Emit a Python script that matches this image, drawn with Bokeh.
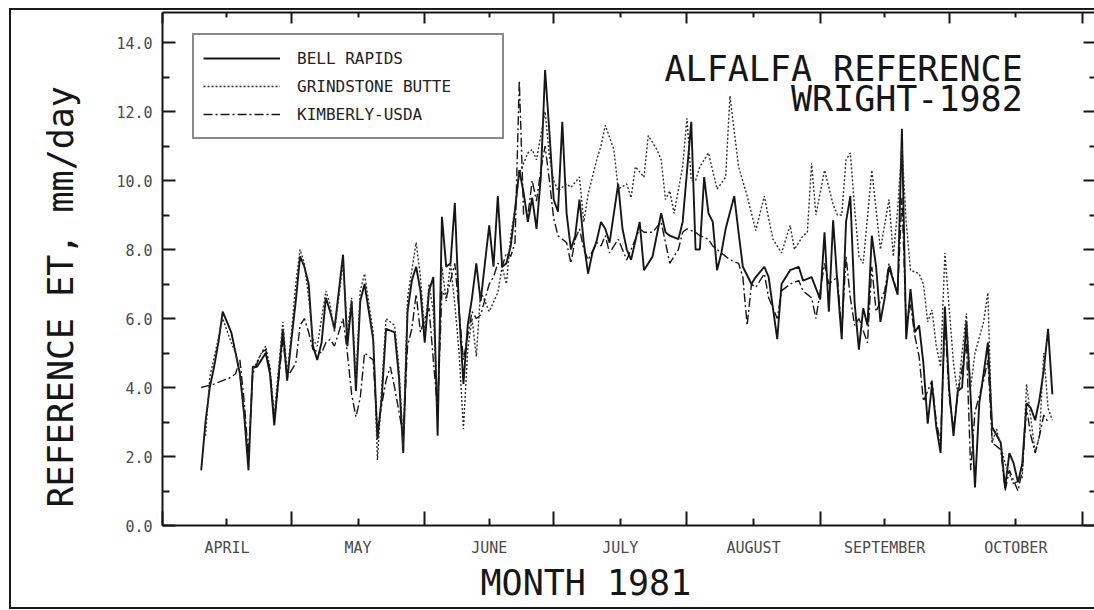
import numpy as np
from bokeh.plotting import figure
from bokeh.models import (Range1d, LinearAxis, FixedTicker, Legend, LegendItem, Label, Title,
                          NumeralTickFormatter, CustomJSTickFormatter)
from bokeh.embed import file_html
from bokeh.resources import INLINE

# ---------------- data (day of year 1981, reference ET mm/day) ----------------
bell_day = [100, 101, 102, 103, 104, 105, 106, 107, 108, 109, 110, 111, 112, 113, 114, 115, 116, 117,
            119, 120, 121, 122, 123, 124, 125, 126, 127, 128, 129, 130, 131, 133, 134, 135, 136, 137,
            138, 140, 141, 142, 143, 145, 146, 147, 148, 149, 150, 151, 152, 153, 154, 155, 156, 157,
            158, 159, 160, 161, 162, 163, 164, 165, 167, 168, 169, 170, 171, 172, 173, 174, 175, 176,
            177, 178, 179, 180, 181, 182, 183, 184, 185, 186, 187, 188, 189, 190, 191, 192, 193, 194,
            195, 197, 198, 199, 200, 202, 203, 205, 207, 208, 209, 211, 212, 214, 215, 216, 217, 218,
            219, 220, 221, 222, 224, 225, 226, 228, 229, 231, 232, 234, 235, 237, 239, 240, 242, 244,
            245, 246, 247, 248, 249, 250, 251, 252, 253, 254, 255, 256, 257, 258, 259, 260, 262, 263,
            264, 265, 266, 267, 268, 269, 270, 271, 272, 273, 274, 275, 276, 277, 278, 279, 280, 281,
            282, 283, 284, 286, 287, 288, 289, 290, 291, 292, 293, 294, 295, 296, 297, 298]
bell_et = [1.6, 3.0, 4.0, 4.6, 5.3, 6.2, 5.9, 5.6, 5.0, 4.4, 3.2, 1.6, 4.6, 4.6, 4.8, 5.0, 4.4, 2.9,
           5.7, 4.2, 5.4, 6.5, 7.8, 7.5, 7.0, 5.2, 4.8, 5.3, 6.6, 6.2, 5.7, 7.85, 5.2, 6.5, 3.9, 6.5,
           7.0, 5.4, 2.5, 3.7, 5.7, 5.6, 4.3, 2.1, 6.2, 7.1, 7.5, 6.8, 5.3, 6.8, 7.2, 2.6, 8.95, 7.5,
           7.6, 9.35, 6.2, 4.1, 5.8, 6.6, 7.6, 6.5, 8.7, 7.5, 9.55, 7.5, 7.6, 8.1, 9.15, 10.3, 9.65, 8.8,
           9.5, 8.6, 10.1, 13.2, 11.4, 9.45, 9.1, 11.7, 9.05, 8.0, 8.4, 9.45, 8.2, 7.3, 7.9, 8.25, 8.8, 8.6,
           8.2, 9.9, 8.6, 8.0, 7.7, 8.8, 7.4, 7.8, 9.05, 8.5, 8.4, 8.3, 8.8, 11.7, 8.0, 8.0, 10.1, 9.05,
           8.8, 7.4, 7.9, 8.6, 9.55, 8.5, 7.5, 7.0, 7.2, 7.5, 7.2, 5.4, 7.0, 7.4, 7.5, 7.1, 7.2, 6.55,
           8.5, 6.2, 8.85, 7.0, 5.4, 8.8, 9.55, 6.45, 5.1, 6.3, 5.8, 8.4, 7.5, 5.9, 6.6, 7.5, 6.7, 11.5,
           5.4, 6.85, 5.6, 5.8, 4.7, 2.95, 4.1, 2.85, 2.1, 6.35, 3.95, 2.6, 3.9, 4.0, 5.9, 3.7, 1.1, 3.55,
           4.4, 5.3, 2.85, 2.4, 1.1, 2.1, 1.8, 1.25, 1.8, 3.55, 3.4, 3.05, 3.65, 4.5, 5.7, 3.8]

grind_day = [101, 102, 105, 107, 108, 109, 110, 111, 112, 114, 115, 116, 117, 119, 120, 121, 122, 123,
             124, 125, 126, 127, 128, 129, 130, 131, 133, 134, 135, 136, 137, 138, 140, 141, 142, 143,
             145, 146, 147, 148, 150, 151, 152, 153, 154, 155, 156, 157, 158, 159, 160, 161, 162, 163,
             164, 165, 166, 167, 169, 170, 171, 172, 173, 174, 176, 177, 178, 180, 181, 182, 183, 185,
             186, 188, 189, 190, 192, 193, 194, 196, 197, 199, 200, 201, 203, 204, 206, 207, 208, 209,
             210, 212, 213, 214, 215, 216, 218, 220, 222, 223, 225, 227, 229, 231, 232, 233, 235, 237,
             238, 240, 241, 242, 243, 245, 247, 248, 249, 250, 251, 252, 253, 254, 256, 258, 260, 261,
             262, 263, 264, 265, 267, 268, 269, 270, 271, 272, 273, 275, 276, 277, 278, 279, 280, 282,
             283, 284, 285, 287, 288, 289, 291, 292, 294, 295, 296, 297, 298]
grind_et = [2.6, 4.3, 6.0, 5.3, 5.0, 4.4, 3.2, 2.0, 4.5, 5.0, 5.2, 4.6, 3.2, 5.9, 4.4, 5.6, 7.0, 8.0,
            7.6, 6.6, 5.4, 5.2, 6.0, 6.8, 6.4, 5.6, 7.6, 5.6, 6.6, 4.2, 6.8, 7.3, 5.6, 1.9, 4.0, 6.0,
            5.8, 4.6, 2.3, 6.6, 8.2, 7.2, 5.6, 7.0, 6.2, 3.5, 7.5, 6.5, 7.6, 6.4, 5.0, 2.8, 5.1, 6.0,
            4.9, 6.8, 6.5, 6.2, 6.75, 7.5, 7.0, 8.4, 9.2, 10.2, 10.8, 10.9, 10.6, 12.0, 10.7, 10.0, 9.7, 9.9,
            9.8, 10.1, 8.8, 9.6, 10.6, 11.0, 11.6, 10.9, 9.75, 9.9, 9.5, 10.4, 10.1, 11.3, 10.9, 10.6, 9.45, 9.7,
            9.05, 10.4, 11.8, 10.0, 10.0, 10.4, 10.8, 9.75, 10.1, 12.45, 10.4, 9.55, 8.55, 9.55, 8.9, 8.3, 7.9, 8.7,
            8.0, 8.4, 8.5, 10.5, 9.0, 10.3, 9.3, 9.0, 9.0, 10.6, 10.8, 9.2, 7.8, 7.6, 10.3, 8.0, 9.45, 7.8,
            9.15, 11.0, 8.8, 7.4, 7.3, 7.0, 5.9, 6.25, 5.2, 4.6, 7.9, 4.7, 3.8, 5.0, 6.15, 4.0, 5.0, 5.9,
            6.75, 2.4, 2.8, 1.8, 1.5, 1.2, 1.4, 4.1, 2.1, 2.6, 5.0, 3.4, 3.05]

kimb_day = [100, 103, 107, 108, 109, 110, 111, 112, 114, 115, 116, 117, 119, 120, 122, 123, 124, 125,
            126, 128, 129, 130, 131, 133, 134, 135, 136, 137, 138, 140, 141, 142, 143, 144, 145, 147,
            148, 149, 150, 151, 152, 153, 155, 156, 157, 159, 160, 161, 162, 163, 164, 165, 167, 168,
            169, 170, 171, 172, 173, 174, 175, 176, 177, 178, 179, 180, 181, 182, 183, 185, 186, 187,
            188, 189, 190, 192, 193, 194, 195, 197, 198, 199, 200, 202, 203, 205, 207, 208, 209, 210,
            211, 212, 213, 215, 216, 218, 219, 221, 222, 223, 225, 226, 227, 228, 229, 231, 232, 234,
            235, 237, 239, 240, 242, 243, 245, 246, 248, 249, 250, 251, 252, 253, 255, 256, 257, 259,
            260, 262, 263, 264, 265, 266, 267, 268, 270, 271, 272, 273, 274, 275, 276, 278, 279, 280,
            282, 283, 284, 286, 287, 288, 290, 291, 292, 293, 294, 295, 296, 297]
kimb_et = [4.0, 4.1, 4.3, 4.4, 4.8, 3.6, 2.0, 4.4, 5.0, 5.1, 4.5, 3.0, 5.4, 4.3, 4.7, 5.8, 6.0, 5.6,
           5.1, 5.0, 5.3, 5.4, 5.2, 6.0, 5.0, 3.8, 3.15, 3.7, 5.0, 4.8, 2.8, 3.5, 4.2, 4.6, 4.0, 2.6,
           5.2, 5.7, 6.7, 5.6, 6.0, 6.3, 3.3, 6.8, 6.6, 7.6, 6.2, 4.8, 5.5, 6.2, 6.0, 6.1, 7.0, 7.2,
           7.6, 7.5, 7.9, 7.8, 8.2, 12.9, 9.0, 9.0, 10.0, 9.4, 10.3, 11.0, 10.0, 8.9, 8.4, 8.2, 7.6, 8.3,
           8.6, 8.0, 7.7, 8.2, 8.1, 8.4, 7.9, 8.3, 8.0, 7.7, 8.0, 8.6, 8.5, 8.5, 8.8, 8.2, 7.6, 7.8,
           8.0, 8.5, 8.6, 8.5, 8.4, 8.3, 8.1, 7.9, 7.8, 7.7, 7.6, 7.2, 5.8, 7.0, 6.9, 7.3, 6.6, 6.0,
           6.8, 7.0, 7.1, 6.8, 6.6, 6.0, 7.6, 7.0, 7.2, 5.6, 7.8, 6.6, 5.8, 6.0, 5.3, 7.5, 6.2, 6.8,
           7.6, 6.7, 9.5, 5.8, 6.4, 5.5, 4.9, 3.6, 4.2, 3.0, 2.4, 6.0, 3.7, 2.8, 3.8, 5.3, 1.6, 3.3,
           4.2, 4.8, 2.4, 2.2, 1.0, 1.6, 1.0, 1.6, 3.4, 2.6, 2.1, 2.6, 3.2, 3.0]

series_names = ["BELL RAPIDS", "GRINDSTONE BUTTE", "KIMBERLY-USDA"]
month_names = ["APRIL", "MAY", "JUNE", "JULY", "AUGUST", "SEPTEMBER", "OCTOBER"]
month_starts = [91, 121, 152, 182, 213, 244, 274, 305]
y_major = [0, 2, 4, 6, 8, 10, 12, 14]
y_minor = [1, 3, 5, 7, 9, 11, 13]

# ---------------- figure ----------------
MONO = "DejaVu Sans Mono"
INK = "#161616"

p = figure(width=1094, height=610, x_range=Range1d(91, 307.8), y_range=Range1d(0, 14.87),
           output_backend="svg", toolbar_location=None, x_axis_type=None, y_axis_type=None,
           min_border_left=162, min_border_right=0, min_border_top=12, min_border_bottom=85)
p.outline_line_color = None
p.background_fill_color = "white"
p.border_fill_color = "white"
p.stylesheets = [":host::after { content: ''; position: absolute; left: 9px; top: 8px; "
                 "right: 0px; bottom: 1px; border: 2px solid #1a1a1a; border-right: none; "
                 "pointer-events: none; }"]

mids = [(a + b) / 2 for a, b in zip(month_starts[:-1], month_starts[1:])]
month_ticker = FixedTicker(ticks=mids, minor_ticks=month_starts)
y_ticker = FixedTicker(ticks=y_major, minor_ticks=y_minor)
blank = CustomJSTickFormatter(code="return ''")


def style_axis(ax, tin, mtin, show_labels, line=True):
    ax.axis_line_color = INK if line else None
    ax.axis_line_width = 2
    ax.major_tick_line_color = INK
    ax.minor_tick_line_color = INK
    ax.major_tick_line_width = 2
    ax.minor_tick_line_width = 2
    ax.major_tick_in = tin
    ax.major_tick_out = 0
    ax.minor_tick_in = mtin
    ax.minor_tick_out = 0
    ax.major_label_text_font = MONO
    ax.major_label_text_font_size = "15px"
    ax.major_label_text_color = "#4a4a4a"
    if not show_labels:
        ax.major_label_standoff = 0


left = LinearAxis(ticker=y_ticker, formatter=NumeralTickFormatter(format="0.0"))
style_axis(left, 13, 7, True)
left.major_label_standoff = 10
p.add_layout(left, "left")

right = LinearAxis(ticker=y_ticker, formatter=blank)
style_axis(right, 11, 5, False, line=False)
p.add_layout(right, "right")

bottom = LinearAxis(ticker=month_ticker,
                    major_label_overrides={m: n for m, n in zip(mids, month_names)})
style_axis(bottom, 7, 14, True)
bottom.major_label_standoff = 13
p.add_layout(bottom, "below")

top = LinearAxis(ticker=month_ticker, formatter=blank)
style_axis(top, 5, 11, False)
top.major_label_text_font_size = "0px"
p.add_layout(top, "above")

# axis titles
p.add_layout(Title(text="MONTH 1981", align="left", offset=318, standoff=3,
                   text_font=MONO, text_font_size="35px", text_font_style="normal",
                   text_color=INK), "below")
p.add_layout(Title(text="REFERENCE ET, mm/day", align="left", offset=18, standoff=66,
                   text_font=MONO, text_font_size="35px", text_font_style="normal",
                   text_color=INK), "left")

# ---------------- series ----------------
r_bell = p.line(bell_day, bell_et, line_color=INK, line_width=1.9)
r_grind = p.line(grind_day, grind_et, line_color="#2e2e2e", line_width=1.4, line_dash="2 2")
r_kimb = p.line(kimb_day, kimb_et, line_color=INK, line_width=1.4, line_dash="9 3 2 3")

legend = Legend(items=[LegendItem(label=n, renderers=[r]) for n, r in
                       zip(series_names, [r_bell, r_grind, r_kimb])],
                location=(30, 386))
legend.border_line_color = INK
legend.border_line_width = 2
legend.background_fill_color = "white"
legend.background_fill_alpha = 1
legend.padding = 9
legend.spacing = 0
legend.margin = 0
legend.glyph_width = 77
legend.glyph_height = 28
legend.label_height = 28
legend.label_width = 196
legend.label_standoff = 17
legend.label_text_font = MONO
legend.label_text_font_size = "16px"
legend.label_text_color = "#222222"
p.add_layout(legend)

# ---------------- chart title (inside the frame) ----------------
for txt, yv in [("ALFALFA REFERENCE", 13.23), ("WRIGHT-1982", 12.36)]:
    p.add_layout(Label(x=291.1, y=yv, text=txt, text_align="right", text_baseline="alphabetic",
                       text_font=MONO, text_font_size="35px", text_color=INK))

open("out.html", "w").write(file_html(p, INLINE))
